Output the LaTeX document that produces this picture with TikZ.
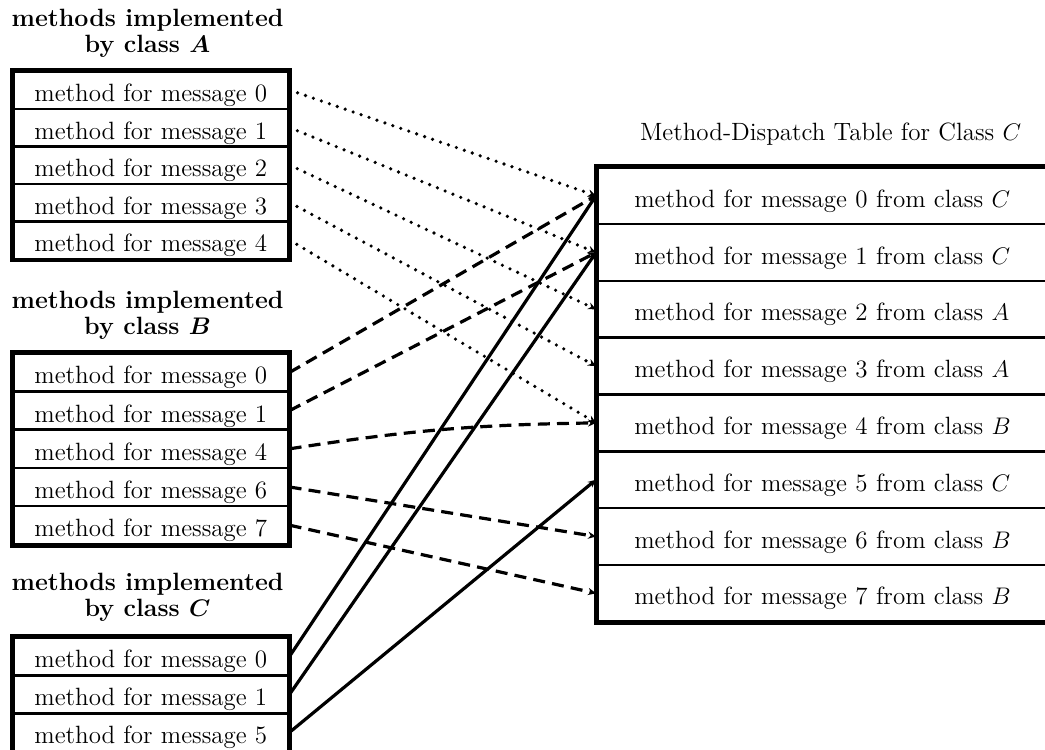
\documentclass[tikz,border=0pt]{standalone}
\usetikzlibrary{arrows.meta}
\begin{document}
\begin{tikzpicture}[x=0.5pt,y=-0.5pt,
  font=\fontsize{12.5}{13}\selectfont,
  row/.style={draw, line width=1.3pt, minimum width=137.5pt, inner sep=0pt,
    text height=11.5pt, text depth=0pt, anchor=north west},
  entry/.style={draw, line width=1.3pt, minimum width=235pt, minimum height=28.4pt,
    inner xsep=18.5pt, inner ysep=0pt, text width=198pt, align=left,
    text height=11.5pt, text depth=0pt, anchor=north west},
  frame/.style={line width=2pt},
  heading/.style={font=\fontsize{12.5}{13}\selectfont\bfseries\boldmath, align=center},
  link/.style={line width=1.6pt, -{Stealth[length=4pt,width=3.6pt]}},
  dotlink/.style={link, line width=1.8pt, line cap=round, dash pattern=on 0pt off 4.2pt},
  dashlink/.style={link, dash pattern=on 6pt off 3.6pt},
  solidlink/.style={link}]

\useasboundingbox (0,0) rectangle (1045,750);
\clip (0,0) rectangle (1045,750);

% methods of class A
\node[heading] (headA) at (147.5,33) {methods implemented\\by class $A$};
\foreach \i/\m in {0/0,1/1,2/2,3/3,4/4}
  \node[row, minimum height=18.75pt] (a\m) at (12,{70+\i*37.5}) {method for message \m};
\draw[frame] (a0.north west) rectangle (a4.south east);

% methods of class B
\node[heading] (headB) at (147.5,315) {methods implemented\\by class $B$};
\foreach \i/\m in {0/0,1/1,2/4,3/6,4/7}
  \node[row, minimum height=19.1pt] (b\m) at (12,{352+\i*38.2}) {method for message \m};
\draw[frame] (b0.north west) rectangle (b7.south east);

% methods of class C
\node[heading] (headC) at (147.5,597) {methods implemented\\by class $C$};
\foreach \i/\m in {0/0,1/1,2/5}
  \node[row, minimum height=19pt] (c\m) at (12,{636+\i*38}) {method for message \m};
\draw[frame] (c0.north west) rectangle (c5.south east);

% dispatch table of class C
\node[anchor=base west] (tabletitle) at (633,140) {Method-Dispatch Table for Class $C$};
\foreach \m/\cls in {0/C,1/C,2/A,3/A,4/B,5/C,6/B,7/B}
  \node[entry] (t\m) at (596,{166+\m*56.8}) {method for message \m\ from class $\cls$};
\draw[frame] (t0.north west) rectangle (t7.south east);

% inherited from A
\foreach \m in {0,...,4}
  \draw[dotlink] (a\m.east) -- (t\m.west);

% inherited from B
\draw[dashlink] (b0.east) -- (t0.west);
\draw[dashlink] (b1.east) -- (t1.west);
\draw[dashlink] (b4.east) to[bend left=4] (t4.west);
\draw[dashlink] (b6.east) -- (t6.west);
\draw[dashlink] (b7.east) -- (t7.west);

% defined in C
\draw[solidlink] (c0.east) -- (t0.west);
\draw[solidlink] (c1.east) -- (t1.west);
\draw[solidlink] (c5.east) -- (t5.west);
\end{tikzpicture}
\end{document}
